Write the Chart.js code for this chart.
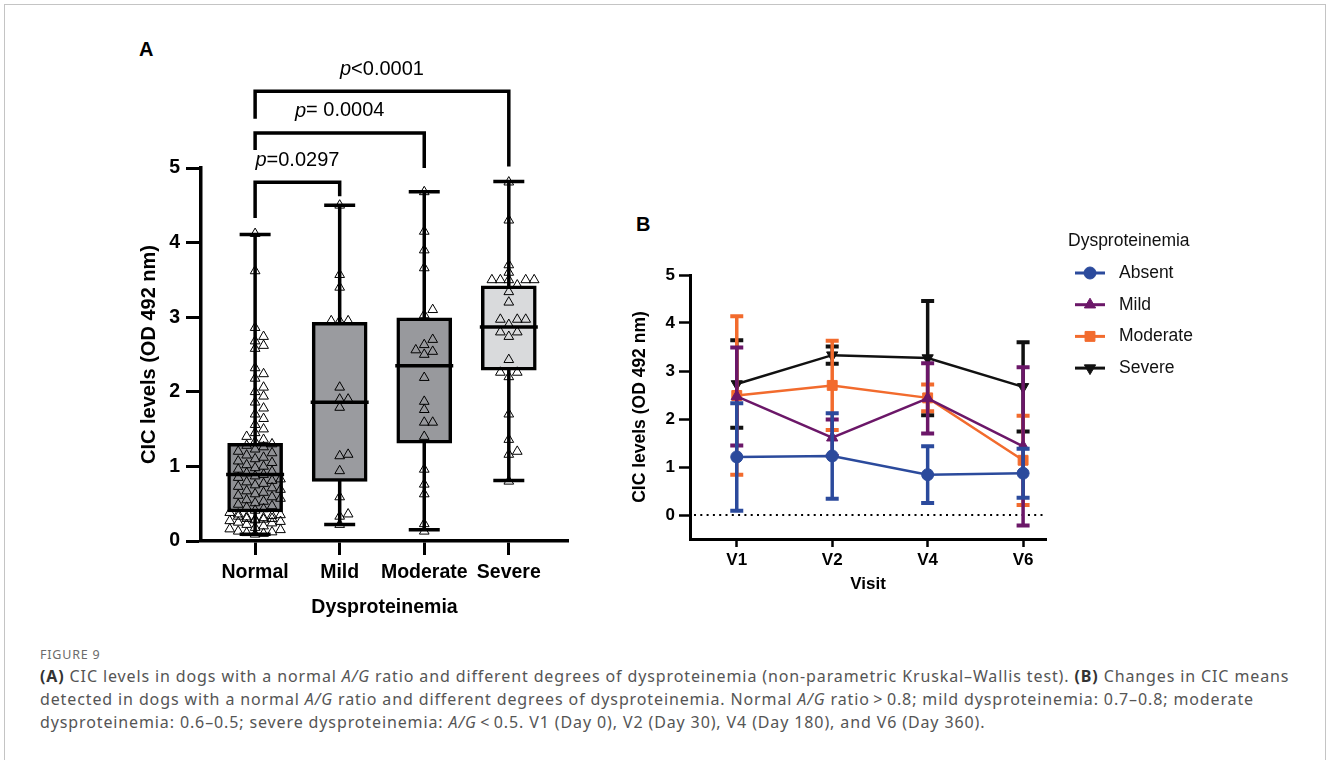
<!DOCTYPE html>
<html>
<head>
<meta charset="utf-8">
<script src="https://cdn.jsdelivr.net/npm/chart.js@4.4.1/dist/chart.umd.min.js"></script>
<style>
  body { margin: 0; width: 1328px; height: 760px; background: #fff; position: relative; overflow: hidden;
         font-family: "Liberation Sans", Arial, sans-serif; }
  #frame { position: absolute; left: 4px; top: 4px; width: 1320px; height: 800px; border: 1.5px solid #c4c4c4; }
  .tag { position: absolute; font-weight: bold; font-size: 20px; line-height: 24px; color: #000; }
  #chartA { position: absolute; left: 100px; top: 30px; }
  #chartB { position: absolute; left: 600px; top: 200px; }
  #fig { position: absolute; left: 40px; top: 646px; font-family: "Noto Sans", sans-serif; font-size: 12.5px;
         color: #6b6b6b; letter-spacing: 0.8px; }
  #caption { position: absolute; left: 40px; top: 665px; font-family: "Noto Sans", sans-serif; font-size: 16px;
             line-height: 23px; color: #555; white-space: nowrap; letter-spacing: 0.88px; }
  #caption b { color: #333; }
</style>
</head>
<body>
<div id="frame"></div>
<div class="tag" style="left:139px; top:37px">A</div>
<div class="tag" style="left:636px; top:212px">B</div>
<canvas id="chartA" width="500" height="600"></canvas>
<canvas id="chartB" width="700" height="420"></canvas>
<div id="fig">FIGURE 9</div>
<div id="caption"><b>(A)</b> CIC levels in dogs with a normal <i>A/G</i> ratio and different degrees of dysproteinemia (non-parametric Kruskal–Wallis test). <b>(B)</b> Changes in CIC means<br>detected in dogs with a normal <i>A/G</i> ratio and different degrees of dysproteinemia. Normal <i>A/G</i> ratio&thinsp;&gt;&thinsp;0.8; mild dysproteinemia: 0.7–0.8; moderate<br>dysproteinemia: 0.6–0.5; severe dysproteinemia: <i>A/G</i>&thinsp;&lt;&thinsp;0.5. V1 (Day 0), V2 (Day 30), V4 (Day 180), and V6 (Day 360).</div>

<script>
// ---- panel A: CIC per dysproteinemia group ----
const groups = ['Normal', 'Mild', 'Moderate', 'Severe'];

const normalCic = [
  4.12, 3.62, 2.86, 2.74, 2.68, 2.62, 2.58, 2.32, 2.24, 2.18, 2.06, 2.0, 1.94, 1.86, 1.78, 1.7, 1.64, 1.56,
  1.5, 1.45, 1.4, 1.36, 1.33, 1.3, 1.28, 1.26, 1.23, 1.2, 1.18, 1.15, 1.12, 1.1, 1.07, 1.05, 1.02, 1.0,
  0.98, 0.96, 0.93, 0.91, 0.89, 0.87, 0.85, 0.83, 0.81, 0.79, 0.77, 0.75, 0.73, 0.71, 0.69, 0.67, 0.65,
  0.63, 0.61, 0.59, 0.57, 0.55, 0.53, 0.51, 0.49, 0.47, 0.45, 0.43, 0.41, 0.38, 0.36, 0.35, 0.34, 0.33,
  0.32, 0.31, 0.3, 0.3, 0.29, 0.29, 0.28, 0.27, 0.26, 0.25, 0.24, 0.22, 0.2, 0.18, 0.16, 0.15, 0.13,
  0.12, 0.11, 0.1, 0.09
];
const mildCic = [4.5, 3.57, 3.4, 2.95, 2.95, 2.95, 2.06, 1.9, 1.9, 1.79, 1.16, 1.14, 0.94, 0.59, 0.36, 0.33, 0.22];
const moderateCic = [4.68, 4.15, 3.9, 3.66, 3.1, 3.03, 2.7, 2.63, 2.56, 2.54, 2.5, 2.19, 1.87, 1.76, 1.59, 1.59,
  1.4, 0.96, 0.76, 0.63, 0.23, 0.13];
const severeCic = [4.81, 4.3, 3.7, 3.6, 3.5, 3.5, 3.5, 3.5, 3.5, 3.43, 3.34, 3.2, 2.97, 2.97, 2.97, 2.9, 2.8, 2.8,
  2.74, 2.43, 2.26, 2.26, 2.2, 1.7, 1.36, 1.2, 1.16, 0.8];

const whiskerLow = [0.09, 0.22, 0.15, 0.81];
const q1 = [0.39, 0.8, 1.31, 2.29];
const medians = [0.89, 1.86, 2.35, 2.87];
const q3 = [1.31, 2.93, 2.99, 3.42];
const whiskerHigh = [4.11, 4.5, 4.68, 4.82];

// Kruskal-Wallis comparisons against Normal
const comparePairs = [[0, 1], [0, 2], [0, 3]];
const pValues = ['=0.0297', '= 0.0004', '<0.0001'];
const bracketLevel = [4.81, 5.47, 6.03];
const bracketLegEnds = [[4.33, 4.62], [5.24, 5.0], [5.66, 5.02]];

// ---- panel B: CIC means over the visits ----
const visits = ['V1', 'V2', 'V4', 'V6'];
const absentMean = [1.21, 1.23, 0.84, 0.87];
const absentSd = [1.12, 0.89, 0.59, 0.51];
const mildMean = [2.47, 1.61, 2.43, 1.43];
const mildSd = [1.02, 0.38, 0.73, 1.65];
const moderateMean = [2.49, 2.7, 2.44, 1.14];
const moderateSd = [1.65, 0.93, 0.28, 0.93];
const severeMean = [2.73, 3.33, 3.27, 2.67];
const severeSd = [0.91, 0.18, 1.19, 0.93];

const bold = size => ({ family: '"Liberation Sans", Arial, sans-serif', size: size, weight: 'bold' });

// spread the dots of one group sideways so the triangles don't pile up;
// the spread is capped, past that the least crowded slot is reused
function swarm(values, center) {
  const stepX = 0.1, gapY = 0.1, maxK = 6;
  const placed = [];
  const offAt = k => (k % 2 ? 1 : -1) * Math.ceil(k / 2) * stepX;
  const hits = (v, off) => placed.filter(p => Math.abs(p.y - v) < gapY && Math.abs(p.x - off) < stepX * 0.9).length;
  return values.slice().sort((a, b) => a - b).map(v => {
    let best = 0, bestHits = Infinity;
    for (let k = 0; k <= maxK; k++) {
      const h = hits(v, offAt(k));
      if (h < bestHits) { best = k; bestHits = h; }
      if (h === 0) break;
    }
    const off = offAt(best);
    placed.push({ x: off, y: v });
    return { x: center + off, y: v };
  });
}

const dots = [normalCic, mildCic, moderateCic, severeCic].flatMap((vals, i) => swarm(vals, i + 1));

const boxParts = {
  id: 'boxParts',
  beforeDatasetsDraw(chart) {
    const { ctx, scales: { x, y } } = chart;
    ctx.save();
    ctx.strokeStyle = '#000';
    ctx.lineWidth = 3.5;
    groups.forEach((g, i) => {
      const px = x.getPixelForValue(i + 1);
      const lo = y.getPixelForValue(whiskerLow[i]);
      const hi = y.getPixelForValue(whiskerHigh[i]);
      ctx.beginPath();
      ctx.moveTo(px, lo); ctx.lineTo(px, hi);
      ctx.moveTo(px - 15.5, lo); ctx.lineTo(px + 15.5, lo);
      ctx.moveTo(px - 15.5, hi); ctx.lineTo(px + 15.5, hi);
      ctx.stroke();
    });
    ctx.restore();
  },
  afterDatasetDraw(chart, args) {
    if (args.meta.type !== 'bar') return;
    const { ctx, scales: { x, y } } = chart;
    ctx.save();
    ctx.strokeStyle = '#000';
    ctx.lineWidth = 3.5;
    medians.forEach((m, i) => {
      const px = x.getPixelForValue(i + 1);
      const py = y.getPixelForValue(m);
      ctx.beginPath();
      ctx.moveTo(px - 29, py); ctx.lineTo(px + 29, py);
      ctx.stroke();
    });
    ctx.restore();
  },
  afterDraw(chart) {
    const { ctx, scales: { x, y } } = chart;
    ctx.save();
    ctx.strokeStyle = '#000';
    ctx.lineWidth = 3.5;
    ctx.lineJoin = 'miter';
    comparePairs.forEach(([a, b], i) => {
      const xa = x.getPixelForValue(a + 1), xb = x.getPixelForValue(b + 1);
      const top = y.getPixelForValue(bracketLevel[i]);
      ctx.beginPath();
      ctx.moveTo(xa, y.getPixelForValue(bracketLegEnds[i][0]));
      ctx.lineTo(xa, top);
      ctx.lineTo(xb, top);
      ctx.lineTo(xb, y.getPixelForValue(bracketLegEnds[i][1]));
      ctx.stroke();

      // "p" in italics, the rest upright
      const it = 'italic 20px "Liberation Sans", Arial';
      const up = '20px "Liberation Sans", Arial';
      ctx.font = it; const w1 = ctx.measureText('p').width;
      ctx.font = up; const w2 = ctx.measureText(pValues[i]).width;
      const left = (xa + xb) / 2 - (w1 + w2) / 2;
      ctx.fillStyle = '#000';
      ctx.textBaseline = 'middle';
      ctx.textAlign = 'left';
      ctx.font = it; ctx.fillText('p', left, top - 22);
      ctx.font = up; ctx.fillText(pValues[i], left + w1, top - 22);
    });
    ctx.restore();
  }
};

new Chart(document.getElementById('chartA'), {
  type: 'bar',
  data: {
    datasets: [
      {
        type: 'scatter',
        data: dots,
        pointStyle: 'triangle',
        pointRadius: 5.6,
        borderColor: '#000',
        borderWidth: 1,
        backgroundColor: 'rgba(0,0,0,0)',
        order: 0
      },
      {
        type: 'bar',
        data: groups.map((g, i) => ({ x: i + 1, y: [q1[i], q3[i]] })),
        backgroundColor: ['#8f9094', '#9a9b9f', '#98999d', '#d9dadc'],
        borderColor: '#000',
        borderWidth: 3.5,
        borderSkipped: false,
        barThickness: 55,
        order: 1
      }
    ]
  },
  options: {
    responsive: false,
    animation: false,
    layout: { padding: { left: 0, top: 138, right: 32, bottom: 0 } },
    plugins: { legend: { display: false }, tooltip: { enabled: false } },
    scales: {
      x: {
        type: 'linear', min: 0.36, max: 4.7, offset: false,
        afterBuildTicks: s => { s.ticks = groups.map((g, i) => ({ value: i + 1 })); },
        afterFit: s => { s.height = 89; },
        ticks: { callback: v => groups[v - 1], font: bold(19.5), color: '#000', padding: 6, maxRotation: 0, autoSkip: false },
        grid: { display: true, drawOnChartArea: false, drawTicks: true, tickLength: 14, tickWidth: 3, tickColor: '#000', offset: false },
        border: { display: true, color: '#000', width: 3.5 },
        title: { display: true, text: 'Dysproteinemia', font: bold(19.5), color: '#000', padding: { top: 0, bottom: 11 } }
      },
      y: {
        min: 0, max: 5,
        ticks: { stepSize: 1, font: bold(19.5), color: '#000', padding: 6 },
        afterFit: s => { s.width = 101; },
        grid: { display: true, drawOnChartArea: false, drawTicks: true, tickLength: 15, tickWidth: 3, tickColor: '#000' },
        border: { display: true, color: '#000', width: 3.5 },
        title: { display: true, text: 'CIC levels (OD 492 nm)', font: bold(20), color: '#000', padding: { top: 37, bottom: 0 } }
      }
    }
  },
  plugins: [boxParts]
});

// ---- panel B ----
const seriesB = [
  { label: 'Absent', mean: absentMean, sd: absentSd, color: '#2b4a9c', style: 'circle', rot: 0, r: 6 },
  { label: 'Mild', mean: mildMean, sd: mildSd, color: '#6b1768', style: 'triangle', rot: 0, r: 6.5 },
  { label: 'Moderate', mean: moderateMean, sd: moderateSd, color: '#f26b2d', style: 'rect', rot: 0, r: 7 },
  { label: 'Severe', mean: severeMean, sd: severeSd, color: '#111111', style: 'triangle', rot: 180, r: 6.5 }
];

const errorBars = {
  id: 'errorBars',
  beforeDatasetsDraw(chart) {
    const { ctx, chartArea, scales: { y } } = chart;
    const y0 = y.getPixelForValue(0);
    ctx.save();
    ctx.strokeStyle = '#000';
    ctx.lineWidth = 2;
    ctx.setLineDash([2, 4.3]);
    ctx.beginPath();
    ctx.moveTo(chartArea.left + 4, y0); ctx.lineTo(chartArea.right, y0);
    ctx.stroke();
    ctx.restore();
  },
  beforeDatasetDraw(chart, args) {
    const { ctx, scales: { y } } = chart;
    const ds = chart.data.datasets[args.index];
    ctx.save();
    ctx.strokeStyle = ds.borderColor;
    args.meta.data.forEach((pt, j) => {
      const m = ds.data[j].y, e = ds.errors[j];
      const hi = y.getPixelForValue(m + e), lo = y.getPixelForValue(m - e);
      ctx.lineWidth = 3.5;
      ctx.beginPath();
      ctx.moveTo(pt.x, hi); ctx.lineTo(pt.x, lo);
      ctx.stroke();
      ctx.lineWidth = 4;
      ctx.beginPath();
      ctx.moveTo(pt.x - 6.5, hi); ctx.lineTo(pt.x + 6.5, hi);
      ctx.moveTo(pt.x - 6.5, lo); ctx.lineTo(pt.x + 6.5, lo);
      ctx.stroke();
    });
    ctx.restore();
  },
  afterDraw(chart) {
    const { ctx, chartArea } = chart;
    const x0 = chartArea.right + 22;
    ctx.save();
    ctx.textBaseline = 'middle';
    ctx.textAlign = 'left';
    ctx.fillStyle = '#111';
    ctx.font = '17.5px "Liberation Sans", Arial';
    ctx.fillText('Dysproteinemia', x0, 41);
    chart.data.datasets.forEach((ds, i) => {
      const ly = 73 + i * 31.7;
      ctx.strokeStyle = ds.borderColor;
      ctx.fillStyle = ds.borderColor;
      ctx.lineWidth = 3;
      ctx.beginPath();
      ctx.moveTo(x0 + 7, ly); ctx.lineTo(x0 + 37, ly);
      ctx.stroke();
      ctx.lineWidth = 1;
      Chart.helpers.drawPoint(ctx, { pointStyle: ds.pointStyle, rotation: ds.pointRotation, radius: ds.pointRadius, borderWidth: 1 }, x0 + 22, ly);
      ctx.fillStyle = '#111';
      ctx.fillText(ds.label, x0 + 51, ly);
    });
    ctx.restore();
  }
};

new Chart(document.getElementById('chartB'), {
  type: 'line',
  data: {
    datasets: seriesB.map((s, i) => ({
      label: s.label,
      data: visits.map((v, j) => ({ x: j + 1, y: s.mean[j] })),
      errors: s.sd,
      borderColor: s.color,
      backgroundColor: s.color,
      borderWidth: 2.5,
      pointStyle: s.style,
      pointRotation: s.rot,
      pointRadius: s.r,
      pointBorderWidth: 1,
      tension: 0,
      clip: false,
      order: i
    }))
  },
  options: {
    responsive: false,
    animation: false,
    layout: { padding: { left: 0, top: 75, right: 254, bottom: 0 } },
    plugins: { legend: { display: false }, tooltip: { enabled: false } },
    scales: {
      x: {
        type: 'linear', min: 0.51, max: 4.24,
        afterBuildTicks: s => { s.ticks = visits.map((v, j) => ({ value: j + 1 })); },
        afterFit: s => { s.height = 81; },
        ticks: { callback: v => visits[v - 1], font: bold(17), color: '#000', padding: 3, maxRotation: 0, autoSkip: false },
        grid: { display: true, drawOnChartArea: false, drawTicks: true, tickLength: 8, tickWidth: 2.5, tickColor: '#000' },
        border: { display: true, color: '#000', width: 3 },
        title: { display: true, text: 'Visit', font: bold(17), color: '#000', padding: { top: 0, bottom: 25.5 } }
      },
      y: {
        min: -0.5, max: 5,
        afterBuildTicks: s => { s.ticks = [0, 1, 2, 3, 4, 5].map(v => ({ value: v })); },
        afterFit: s => { s.width = 90; },
        ticks: { font: bold(17), color: '#000', padding: 4 },
        grid: { display: true, drawOnChartArea: false, drawTicks: true, tickLength: 11, tickWidth: 2.5, tickColor: '#000' },
        border: { display: true, color: '#000', width: 3 },
        title: { display: true, text: 'CIC levels (OD 492 nm)', font: bold(17.5), color: '#000', padding: { top: 29.5, bottom: 0 } }
      }
    }
  },
  plugins: [errorBars]
});
</script>
</body>
</html>
